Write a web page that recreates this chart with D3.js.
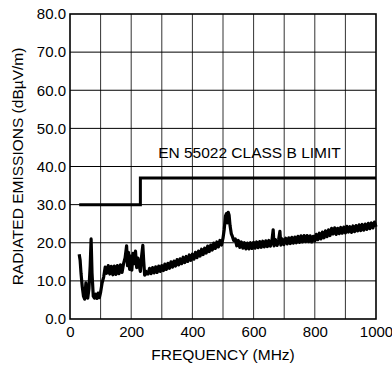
<!DOCTYPE html>
<html>
<head>
<meta charset="utf-8">
<script src="https://cdn.jsdelivr.net/npm/d3@7"></script>
<style>
	body { margin: 0; background: #fff; }
	text { font-family: "Liberation Sans", Arial, sans-serif; fill: #000; }
</style>
</head>
<body>
<div id="chart"></div>
<script>
///////////////////////////////////////////////////////////////////////////
///////////////////////////////// Data ////////////////////////////////////
///////////////////////////////////////////////////////////////////////////

	var xTicks = [0, 200, 400, 600, 800, 1000],
		yTicks = [0, 10, 20, 30, 40, 50, 60, 70, 80];

	//EN 55022 class B limit (MHz / dBuV/m)
	var limitFreq = [30, 230, 230, 1000],
		limitLevel = [30, 30, 37, 37];

	var emissionFreq = [30, 33, 36, 40, 44, 48, 52, 55, 58, 62, 66, 69, 72, 76, 80, 84, 88, 92, 96, 100,
		105, 110, 115, 120, 125, 130, 135, 140, 145, 150, 155, 160, 165, 170, 175, 180, 185, 188, 191, 195,
		198, 202, 206, 210, 214, 218, 222, 226, 230, 234, 238, 241, 244, 248, 252,
		255, 260, 265, 270, 275, 280, 285, 290, 295, 300, 305, 310, 315, 320, 325, 330, 335, 340, 345, 350,
		355, 360, 365, 370, 375, 380, 385, 390, 395, 400, 405, 410, 415, 420, 425, 430, 435, 440, 445, 450,
		455, 460, 465, 470, 475, 480, 485, 490, 495, 500, 504, 508, 511, 514, 517, 520, 523, 527, 531, 535,
		540, 545, 550, 555, 560, 565, 570, 575, 580, 585, 590, 595, 600, 605, 610, 615, 620, 625, 630, 635,
		640, 645, 650, 655, 660, 664, 667, 672, 677, 682, 686, 689, 694, 699, 705, 710, 715, 720, 725, 730,
		735, 740, 745, 750, 755, 760, 765, 770, 775, 780, 785, 790, 795, 800, 805, 810, 815, 820, 825, 830,
		835, 840, 845, 850, 855, 860, 865, 870, 875, 880, 885, 890, 895, 900, 905, 910, 915, 920, 925, 930,
		935, 940, 945, 950, 955, 960, 965, 970, 975, 980, 985, 990, 995, 1000];

	var emissionLevel = [17.0, 15.5, 12.0, 8.5, 6.0, 5.2, 9.5, 6.0, 5.5, 8.0, 14.0, 21.0, 12.0, 6.0, 5.5, 6.5, 5.4, 6.8, 5.6, 7.0,
		9.5, 11.0, 13.6, 12.0, 14.0, 11.8, 13.8, 11.6, 13.9, 11.7, 14.0, 11.9, 14.2, 12.2, 14.5, 16.0, 19.2, 14.0, 17.5, 13.0,
		16.5, 12.8, 17.2, 14.5, 17.8, 13.5, 16.0, 14.0, 12.5, 16.5, 19.3, 15.0, 11.5, 12.5, 11.8,
		11.8, 13.3, 11.9, 13.5, 12.1, 13.7, 12.2, 13.9, 12.5, 14.0, 12.7, 14.4, 13.0, 14.6, 13.3, 15.0, 13.6, 15.2, 13.9, 15.6,
		14.2, 15.8, 14.5, 16.2, 14.8, 16.4, 15.1, 16.8, 15.4, 17.0, 15.7, 17.5, 16.1, 17.8, 16.5, 18.3, 16.9, 18.6, 17.3, 19.1,
		17.7, 19.4, 18.1, 19.9, 18.5, 20.2, 18.9, 20.6, 19.4, 21.2, 23.5, 27.0, 27.6, 25.2, 28.0, 27.2, 24.5, 22.4, 21.6, 20.6,
		21.0, 19.2, 20.6, 18.8, 20.2, 18.6, 20.0, 18.4, 19.9, 18.4, 20.0, 18.5, 20.1, 18.6, 20.2, 18.7, 20.3, 18.8, 20.4, 18.9,
		20.5, 19.0, 20.6, 19.1, 20.6, 23.4, 19.2, 20.8, 19.3, 20.9, 23.0, 19.4, 21.0, 19.5, 21.2, 19.7, 21.3, 19.8, 21.4, 19.9,
		21.5, 20.0, 21.7, 20.1, 21.8, 20.2, 21.9, 20.3, 21.9, 20.3, 21.8, 20.2, 21.7, 20.5, 22.2, 20.8, 22.5, 21.0, 22.8, 21.3,
		23.1, 21.6, 23.4, 21.9, 23.8, 22.3, 23.9, 22.2, 23.8, 22.4, 24.0, 22.5, 24.1, 22.6, 24.3, 22.8, 24.2, 22.7, 24.4, 22.9,
		24.5, 23.1, 24.7, 23.2, 24.8, 23.3, 24.9, 23.5, 25.1, 23.7, 25.2, 23.9, 25.4, 24.2];

///////////////////////////////////////////////////////////////////////////
//////////////////////////////// Setup ////////////////////////////////////
///////////////////////////////////////////////////////////////////////////

	var margin = {left: 70, top: 14, right: 16, bottom: 47},
		width = 392 - margin.left - margin.right,
		height = 366 - margin.top - margin.bottom;

	var svg = d3.select("#chart").append("svg")
		.attr("width", 392)
		.attr("height", 366);

	var g = svg.append("g")
		.attr("transform", "translate(" + margin.left + "," + margin.top + ")");

	var x = d3.scaleLinear().domain([0, 1000]).range([0, width]);
	var y = d3.scaleLinear().domain([0, 80]).range([height, 0]);

	//Grid
	g.append("g").attr("class", "vgrid")
		.selectAll("line")
		.data(d3.range(100, 1000, 100))
		.enter().append("line")
		.attr("x1", function(d) { return x(d); })
		.attr("x2", function(d) { return x(d); })
		.attr("y1", 0)
		.attr("y2", height)
		.style("stroke", "#333")
		.style("stroke-width", 1);

	g.append("g").attr("class", "hgrid")
		.selectAll("line")
		.data(yTicks.slice(1, -1))
		.enter().append("line")
		.attr("x1", 0)
		.attr("x2", width)
		.attr("y1", function(d) { return y(d); })
		.attr("y2", function(d) { return y(d); })
		.style("stroke", "#000")
		.style("stroke-width", 1);

	//Frame
	g.append("rect")
		.attr("width", width)
		.attr("height", height)
		.style("fill", "none")
		.style("stroke", "#000")
		.style("stroke-width", 1.6);

	//Axes (labels only)
	var yAxis = g.append("g")
		.call(d3.axisLeft(y).tickValues(yTicks).tickFormat(d3.format(".1f")).tickSize(0).tickPadding(4));
	var xAxis = g.append("g")
		.attr("transform", "translate(0," + height + ")")
		.call(d3.axisBottom(x).tickValues(xTicks).tickFormat(d3.format("d")).tickSize(0).tickPadding(7));
	[xAxis, yAxis].forEach(function(a) {
		a.select(".domain").remove();
		a.selectAll("text")
			.style("font-family", "'Liberation Sans', Arial, sans-serif")
			.style("font-size", "15px")
			.attr("fill", "#000");
	});

	///////////////////////////////////////////////////////////////////////////
	//////////////////////////////// Lines ////////////////////////////////////
	///////////////////////////////////////////////////////////////////////////

	var line = d3.line()
		.x(function(d) { return x(d[0]); })
		.y(function(d) { return y(d[1]); });

	g.append("path")
		.datum(d3.zip(limitFreq, limitLevel))
		.attr("d", line)
		.style("fill", "none")
		.style("stroke", "#000")
		.style("stroke-width", 3);

	g.append("path")
		.datum(d3.zip(emissionFreq, emissionLevel))
		.attr("d", line)
		.style("fill", "none")
		.style("stroke", "#000")
		.style("stroke-width", 3.2)
		.style("stroke-linejoin", "round");

	g.append("text")
		.attr("x", x(288))
		.attr("y", y(42.3))
		.style("font-size", "15.5px")
		.text("EN 55022 CLASS B LIMIT");

	///////////////////////////////////////////////////////////////////////////
	///////////////////////////// Axis titles /////////////////////////////////
	///////////////////////////////////////////////////////////////////////////

	svg.append("text")
		.attr("x", margin.left + width / 2)
		.attr("y", 360)
		.style("text-anchor", "middle")
		.style("font-size", "15.5px")
		.text("FREQUENCY (MHz)");

	svg.append("text")
		.attr("transform", "translate(23," + (margin.top + height / 2) + ") rotate(-90)")
		.style("text-anchor", "middle")
		.style("font-size", "15.5px")
		.text("RADIATED EMISSIONS (dBµV/m)");
</script>
</body>
</html>
